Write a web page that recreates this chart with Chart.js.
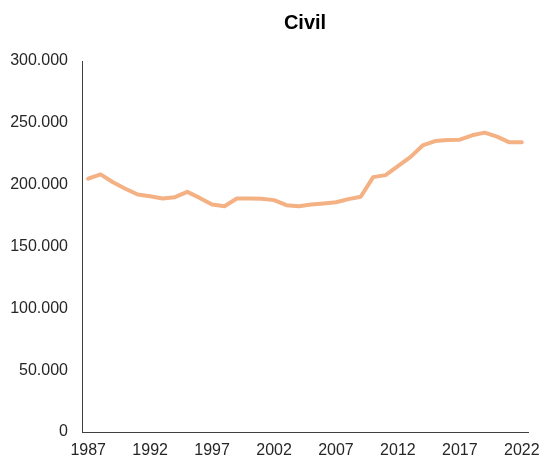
<!DOCTYPE html>
<html>
<head>
<meta charset="utf-8">
<script src="https://cdn.jsdelivr.net/npm/chart.js@4/dist/chart.umd.min.js"></script>
<style>
  html, body { margin: 0; padding: 0; background: #fff; }
  #wrap { width: 541px; height: 459px; }
</style>
</head>
<body>
<div id="wrap"><canvas id="myChart" width="541" height="459"></canvas></div>
<script>
// Datos del gráfico
var chartTitle = 'Civil';
var years = ['1987', '1988', '1989', '1990', '1991', '1992', '1993', '1994', '1995', '1996',
             '1997', '1998', '1999', '2000', '2001', '2002', '2003', '2004', '2005', '2006',
             '2007', '2008', '2009', '2010', '2011', '2012', '2013', '2014', '2015', '2016',
             '2017', '2018', '2019', '2020', '2021', '2022'];
var civil = [204800, 208300, 202000, 196700, 192000, 190700, 188800, 189900, 194200, 189300,
             183900, 182600, 188800, 188800, 188600, 187500, 183400, 182600, 184000, 184800,
             185800, 188300, 190200, 206100, 207700, 215000, 222300, 231700, 235300, 236100,
             236400, 239900, 242100, 238800, 234200, 234200];
var yTicks = [0, 50000, 100000, 150000, 200000, 250000, 300000];

// Formato con punto de miles
function formatMiles(v) {
    return String(v).replace(/\B(?=(\d{3})+(?!\d))/g, '.');
}

var ctx = document.getElementById('myChart').getContext('2d');
var chart = new Chart(ctx, {
    type: 'line',
    data: {
        labels: years,
        datasets: [{
            label: chartTitle,
            data: civil,
            borderColor: '#F4B183',
            borderWidth: 4,
            pointRadius: 0,
            tension: 0,
            borderJoinStyle: 'round',
            borderCapStyle: 'round',
            fill: false
        }]
    },
    options: {
        responsive: false,
        animation: false,
        layout: {
            padding: { left: 10, right: 13, top: 0, bottom: 0 }
        },
        plugins: {
            legend: { display: false },
            tooltip: { enabled: false },
            title: {
                display: true,
                text: chartTitle,
                fullSize: false,
                color: '#000',
                font: { family: 'Liberation Sans, Arial, sans-serif', size: 20, weight: 'bold' },
                padding: { top: 11, bottom: 26 }
            }
        },
        scales: {
            x: {
                type: 'category',
                offset: true,
                grid: { display: false, drawTicks: false },
                border: { display: true, color: '#404040', width: 1 },
                afterFit: function(axis) {
                    // alto fijo y sin relleno extra a los lados
                    axis.height = 27;
                    axis.paddingLeft = 0;
                    axis.paddingRight = 0;
                },
                ticks: {
                    autoSkip: false,
                    maxRotation: 0,
                    padding: 9,
                    color: '#262626',
                    font: { family: 'Liberation Sans, Arial, sans-serif', size: 16 },
                    callback: function(value, index) {
                        return index % 5 === 0 ? years[index] : '';
                    }
                }
            },
            y: {
                min: yTicks[0],
                max: yTicks[yTicks.length - 1],
                grid: { display: false, drawTicks: false },
                border: { display: true, color: '#404040', width: 1 },
                afterBuildTicks: function(axis) {
                    axis.ticks = yTicks.map(function(v) { return { value: v }; });
                },
                afterFit: function(axis) {
                    axis.width = 72;
                },
                ticks: {
                    padding: 14,
                    color: '#262626',
                    font: { family: 'Liberation Sans, Arial, sans-serif', size: 16 },
                    callback: function(value) {
                        return formatMiles(value);
                    }
                }
            }
        }
    }
});
</script>
</body>
</html>
